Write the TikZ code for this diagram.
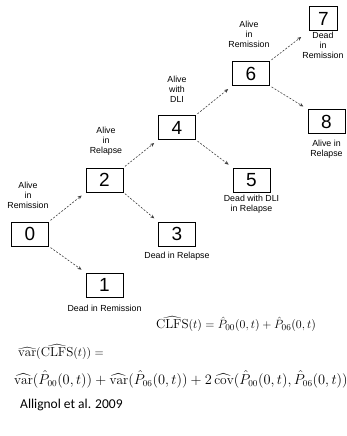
\documentclass[tikz,border=0pt]{standalone}
\usepackage{amsmath}
\usepackage{fontspec}
\newfontfamily\arial{Liberation Sans}
\newfontfamily\calib{Carlito}
\usetikzlibrary{arrows.meta}
\tikzset{
  statebox/.style={draw=black, line width=0.8pt, minimum width=37pt, minimum height=24pt, inner sep=0pt, font=\arial\fontsize{19}{19}\selectfont},
  lbl/.style={align=center, font=\arial\fontsize{8.8}{10}\selectfont, inner sep=0pt},
  trans/.style={draw=black!75, line width=0.6pt, dashed, dash pattern=on 2pt off 1.5pt, -{Stealth[length=4pt,width=3.5pt]}, shorten <=2pt, shorten >=5pt},
  formula/.style={inner sep=0pt, font=\fontsize{13}{15}\selectfont}
}
\begin{document}
\begin{tikzpicture}[x=1pt,y=-1pt]
\useasboundingbox (0,0) rectangle (347,436);
% boxes
\node[statebox] (b0) at (30,234) {0};
\node[statebox] (b1) at (104.5,285) {1};
\node[statebox] (b2) at (104.5,180) {2};
\node[statebox] (b3) at (177,234) {3};
\node[statebox] (b4) at (177,127.5) {4};
\node[statebox] (b5) at (251.5,180) {5};
\node[statebox] (b6) at (251,73.5) {6};
\node[statebox, minimum width=28pt] (b7) at (323.5,18.5) {7};
\node[statebox] (b8) at (326.5,121.5) {8};
% labels
\node[lbl] (l0) at (28,195) {Alive\\in\\Remission};
\node[lbl] (l2) at (106,141) {Alive\\in\\Relapse};
\node[lbl] (l4) at (177,89) {Alive\\with\\DLI};
\node[lbl] (l6) at (249,34) {Alive\\in\\Remission};
\node[lbl] (l7) at (323,45) {Dead\\in\\Remission};
\node[lbl] (l8) at (326.5,149) {Alive in\\Relapse};
\node[lbl] (l5) at (251.5,204) {Dead with DLI\\in Relapse};
\node[lbl] (l3) at (177,256) {Dead in Relapse};
\node[lbl] (l1) at (104.5,308) {Dead in Remission};
% transitions
\draw[trans] (b0.north east) -- (b2.south west);
\draw[trans] (b0.south east) -- (b1.north west);
\draw[trans] (b2.south east) -- (b3.north west);
\draw[trans] (b2.north east) -- (b4.south west);
\draw[trans] (b4.south east) -- (b5.north west);
\draw[trans] (b4.north east) -- (b6.south west);
\draw[trans, shorten >=10pt] (b6.north east) -- (b7.south west);
\draw[trans] (b6.south east) -- (b8.north west);
% formulas
\node[formula] (f1) at (236,324) {$\widehat{\mathrm{CLFS}}(t)=\hat P_{00}(0,t)+\hat P_{06}(0,t)$};
\node[formula, anchor=west] (f2) at (18,352) {$\widehat{\mathrm{var}}(\widehat{\mathrm{CLFS}}(t))=$};
\node[formula, anchor=west, font=\fontsize{13.5}{15}\selectfont] (f3) at (14,379) {$\widehat{\mathrm{var}}(\hat P_{00}(0,t))+\widehat{\mathrm{var}}(\hat P_{06}(0,t))+2\,\widehat{\mathrm{cov}}(\hat P_{00}(0,t),\hat P_{06}(0,t))$};
\node[inner sep=0pt, anchor=west, font=\calib\fontsize{13.5}{15}\selectfont] (ref) at (20,405) {Allignol et al. 2009};
\end{tikzpicture}
\end{document}
